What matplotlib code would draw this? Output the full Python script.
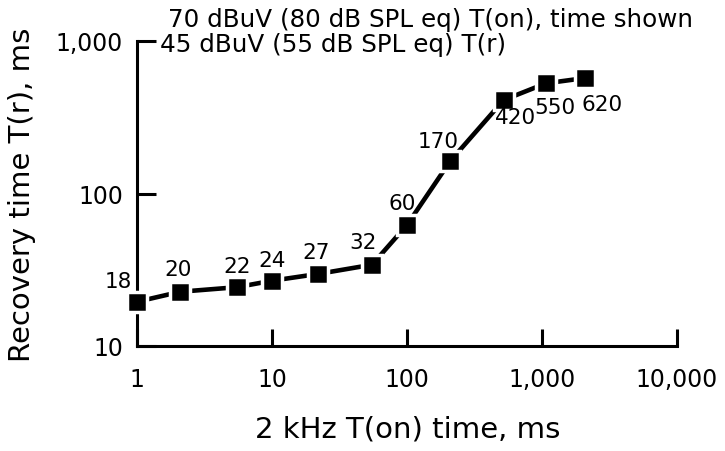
import matplotlib
matplotlib.use("Agg")
import matplotlib.pyplot as plt
from matplotlib.ticker import FixedLocator, FixedFormatter, NullLocator

plt.rcParams['font.family'] = ['DejaVu Sans']

# Data
ton_ms = [1, 2.1, 5.5, 10, 22, 55, 100, 210, 520, 1070, 2100]
tr_ms = [19.5, 22.7, 24.3, 26.8, 29.7, 34.1, 62.2, 164, 410, 528, 572]
point_labels = ["18", "20", "22", "24", "27", "32", "60", "170", "420", "550", "620"]
x_ticks = [1, 10, 100, 1000, 10000]
x_tick_labels = ["1", "10", "100", "1,000", "10,000"]
y_ticks = [10, 100, 1000]
y_tick_labels = ["10", "100", "1,000"]
legend_lines = ["70 dBuV (80 dB SPL eq) T(on), time shown",
                "45 dBuV (55 dB SPL eq) T(r)"]

# label offsets in pixels (style)
offsets = [(-19, 21), (-2, 23), (0, 21), (0, 21), (-2, 22), (-9, 23),
           (-5, 22), (-12, 20), (12, -17), (9, -24), (17, -26)]

W, H = 725, 452
fig = plt.figure(figsize=(W / 100, H / 100), dpi=100)
left, right, top, bottom = 137, 677, 42, 347
ax = fig.add_axes([left / W, 1 - bottom / H, (right - left) / W, (bottom - top) / H])
ax.set_xscale('log')
ax.set_yscale('log')
ax.set_xlim(1, 10000)
ax.set_ylim(10, 1000)

for s in ['top', 'right']:
    ax.spines[s].set_visible(False)
for s in ['left', 'bottom']:
    ax.spines[s].set_linewidth(2.2)

ax.xaxis.set_major_locator(FixedLocator(x_ticks))
ax.xaxis.set_major_formatter(FixedFormatter(x_tick_labels))
ax.yaxis.set_major_locator(FixedLocator(y_ticks))
ax.yaxis.set_major_formatter(FixedFormatter(y_tick_labels))
ax.xaxis.set_minor_locator(NullLocator())
ax.yaxis.set_minor_locator(NullLocator())
ax.tick_params(axis='x', direction='in', length=12, width=2.2, labelsize=17, pad=15)
ax.tick_params(axis='y', direction='in', length=14, width=2.2, labelsize=17, pad=10)

ax.plot(ton_ms, tr_ms, color='black', lw=3.3, marker='s', ms=14.5,
        mfc='black', mec='white', mew=2.5, clip_on=False, zorder=3)

for x, y, lab, (dx, dy) in zip(ton_ms, tr_ms, point_labels, offsets):
    ax.annotate(lab, (x, y), xytext=(dx, dy), textcoords='offset pixels',
                ha='center', va='center', fontsize=15.5)

fig.text(168 / W, 1 - 20 / H, legend_lines[0], ha='left', va='center', fontsize=17.7)
fig.text(160 / W, 1 - 45 / H, legend_lines[1], ha='left', va='center', fontsize=17.7)

fig.text(22 / W, 1 - 195 / H, "Recovery time T(r), ms", rotation=90,
         ha='center', va='center', fontsize=21)
fig.text(408 / W, 1 - 430 / H, "2 kHz T(on) time, ms", ha='center', va='center', fontsize=21)

fig.savefig('out.png', dpi=100)
